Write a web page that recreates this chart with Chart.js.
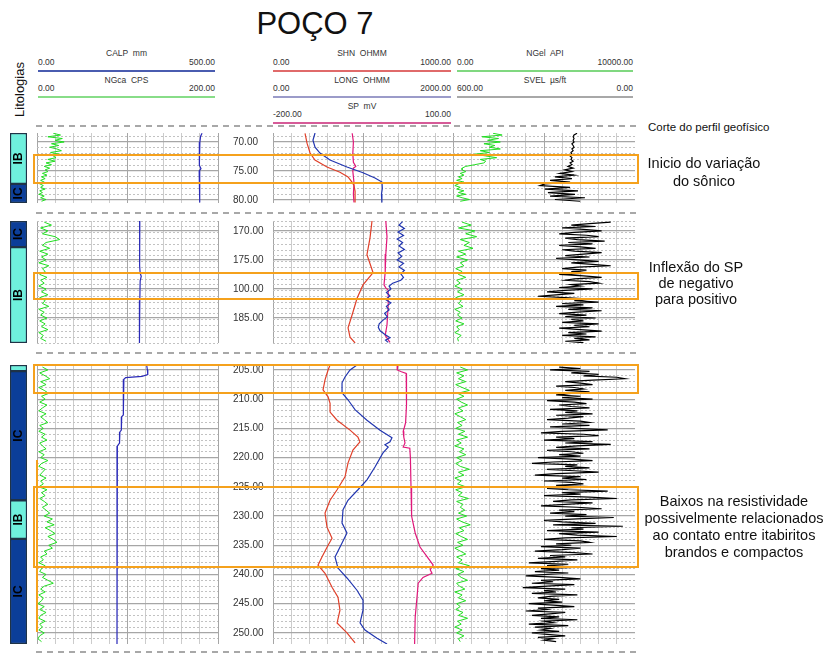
<!DOCTYPE html>
<html lang="pt">
<head>
<meta charset="utf-8">
<title>POÇO 7</title>
<script src="https://cdn.jsdelivr.net/npm/chart.js@4.4.1/dist/chart.umd.min.js"></script>
<style>
  html, body { margin:0; padding:0; background:#ffffff; }
  body { position:relative; width:824px; height:660px; overflow:hidden; font-family:"Liberation Sans", Arial, sans-serif; color:#1a1a1a; }
  .t { position:absolute; white-space:pre; }
  canvas { position:absolute; }
  .dash { position:absolute; height:2px; background:repeating-linear-gradient(to right,#a8a8a8 0 6px,transparent 6px 11px); }
  .hline { position:absolute; height:2px; }
  .box { position:absolute; box-sizing:border-box; border:2px solid #f5a11c; z-index:5; }
  .vmark { position:absolute; width:1.5px; background:#f5a11c; z-index:5; }
</style>
</head>
<body>
<script>
// ================= DATA =================
// track scale ranges (left value, right value)
const calpRange = [0, 500];
const ngcaRange = [0, 200];
const shnRange  = [0, 1000];
const longRange = [0, 2000];
const spRange   = [-200, 100];
const ngelRange = [0, 10000];
const svelRange = [600, 0];

// depth windows of the three sections
const depthRange1 = [68.45, 80.5];
const depthRange2 = [168.3, 189.3];
const depthRange3 = [204.15, 251.9];

// depth tick labels
const depthTicks1 = [70, 75, 80];
const depthLabels1 = ['70.00', '75.00', '80.00'];
const depthTicks2 = [170, 175, 180, 185];
const depthLabels2 = ['170.00', '175.00', '100.00', '185.00'];
const depthTicks3 = [205, 210, 215, 220, 225, 230, 235, 240, 245, 250];
const depthLabels3 = ['205.00', '210.00', '215.00', '220.00', '225.00', '230.00', '235.00', '240.00', '245.00', '250.00'];

// lithology
const lithoNames1 = ['IB', 'IC'];
const lithoTop1   = [68.45, 77.2];
const lithoBase1  = [77.2, 80.5];
const lithoNames2 = ['IC', 'IB'];
const lithoTop2   = [168.3, 172.8];
const lithoBase2  = [172.8, 189.3];
const lithoNames3 = ['IB', 'IC', 'IB', 'IC'];
const lithoTop3   = [204.15, 205.2, 227.3, 233.9];
const lithoBase3  = [205.2, 227.3, 233.9, 251.9];

// ---- section 1 ----
const depth1 = [68.5,68.8,69.1,69.4,69.7,70.0,70.3,70.6,70.9,71.2,71.5,71.8,72.1,72.4,72.7,73.0,73.3,73.6,73.9,74.2,74.5,74.8,75.1,75.4,75.7,76.0,76.3,76.6,76.9,77.2,77.5,77.8,78.1,78.4,78.7,79.0,79.3,79.6,79.9,80.2];
const ngca1 = [18,26,12,28,20,30,16,24,14,22,27,15,25,18,21,12,20,10,16,8,14,9,12,6,11,5,9,4,8,3,7,4,9,3,6,2,8,4,10,5];
const ngel1 = [2200,2700,1600,2500,1900,2600,1700,2300,2000,2600,1500,2000,1200,1800,2400,1500,1800,1700,1200,700,500,500,700,400,600,300,500,200,600,300,100,400,200,600,300,700,200,500,900,400];
const svel1 = [191,201,204,201,204,201,208,204,201,208,204,211,208,214,208,211,204,214,208,221,204,231,208,247,201,264,208,280,214,297,313,214,297,188,287,198,280,165,264,181];
const calpD1 = [68.5,69.0,70.0,72.0,74.0,74.6,75.0,77.0,80.4];
const calpV1 = [456,452,450,449,448,453,448,449,450];
const shnD1 = [68.5,70.2,71.9,73.1,74.3,75.2,76.0,76.9,77.5,78.5,80.4];
const shnV1 = [178,189,206,233,300,372,417,439,450,456,456];
const longD1 = [68.45,69.7,70.9,71.9,73.1,74.3,75.3,76.2,76.9,78.0,79.0,80.4];
const longV1 = [467,444,467,522,633,822,1000,1133,1211,1215,1205,1210];
const spD1 = [68.5,70.0,72.0,73.5,74.2,74.5,75.0,77.0,79.0,80.4];
const spV1 = [-68,-66,-67,-66,-62,-66,-67,-65,-66,-65];

// ---- section 2 ----
const depth2 = [168.5,169,169.5,170,170.5,171,171.5,172,172.5,173,173.5,174,174.5,175,175.5,176,176.5,177,177.5,178,178.5,179,179.5,180,180.5,181,181.5,182,182.5,183,183.5,184,184.5,185,185.5,186,186.5,187,187.5,188,188.5,189];
const ngca2 = [8,16,4,12,6,20,25,10,6,14,3,12,5,10,2,13,6,9,3,11,4,8,2,10,5,12,3,9,6,13,2,8,4,11,3,9,5,12,2,7,4,10];
const ngel2 = [500,1000,300,1200,700,1300,400,900,600,1100,300,700,200,800,400,600,150,500,300,700,200,400,100,500,250,600,150,450,300,550,100,400,250,500,150,600,200,350,100,450,250,300];
const svelD2 = [168.5,168.75,169,169.25,169.5,169.75,170,170.25,170.5,170.75,
  171,171.25,171.5,171.75,172,172.25,172.5,172.75,173,173.25,
  173.5,173.75,174,174.25,174.5,174.75,175,175.25,175.5,175.75,
  176,176.25,176.5,176.75,177,177.25,177.5,177.75,178,178.25,
  178.5,178.75,179,179.25,179.5,179.75,180,180.25,180.5,180.75,
  181,181.25,181.5,181.75,182,182.25,182.5,182.75,183,183.25,
  183.5,183.75,184,184.25,184.5,184.75,185,185.25,185.5,185.75,
  186,186.25,186.5,186.75,187,187.25,187.5,187.75,188,188.25,
  188.5,188.75,189,189.25];
const svel2 = [80,150,210,130,240,170,110,200,250,160,
  120,230,190,100,220,140,250,180,130,240,
  200,110,170,230,150,260,190,120,210,140,
  80,190,240,160,210,130,250,170,110,200,
  230,150,120,210,180,250,140,230,290,200,
  260,320,230,150,200,120,240,170,260,140,
  220,110,190,250,160,230,130,210,170,240,
  120,200,150,250,180,110,220,160,240,130,
  200,150,230,170];
const calpD2 = [168.3,172,176,177.3,177.8,178.6,182,189.3];
const calpV2 = [284,284,283,285,288,285,284,283];
const shnD2 = [168.3,171.2,174.1,177.2,179.3,181.6,184.0,186.7,188.3,189.3];
const shnV2 = [550,539,522,556,500,467,444,417,428,456];
const longD2 = [168.4,169,169.6,170.2,170.8,171.4,172,172.6,173.2,173.8,174.4,175,175.6,176.2,176.8,177.4,178,178.5,179,179.5,180,180.6,181.2,181.8,182.4,183,183.6,184.2,184.8,185.4,186,186.6,187.2,187.8,188.4,188.8,189.2];
const longV2 = [1440,1400,1460,1390,1450,1380,1440,1400,1460,1390,1430,1380,1450,1400,1460,1420,1450,1420,1330,1290,1310,1260,1300,1250,1310,1260,1290,1240,1270,1220,1180,1170,1190,1240,1300,1250,1280];
const spD2 = [168.3,171,174,177.1,179.3,179.8,180.2,182.8,186.2,188.0,188.6,189.2];
const spV2 = [-12,-10,-12,-13,-15,-12,-8,-8,-10,-13,-9,-5];

// ---- section 3 ----
const depth3 = [204.5,205,205.5,206,206.5,207,207.5,208,208.5,209,
  209.5,210,210.5,211,211.5,212,212.5,213,213.5,214,
  214.5,215,215.5,216,216.5,217,217.5,218,218.5,219,
  219.5,220,220.5,221,221.5,222,222.5,223,223.5,224,
  224.5,225,225.5,226,226.5,227,227.5,228,228.5,229,
  229.5,230,230.5,231,231.5,232,232.5,233,233.5,234,
  234.5,235,235.5,236,236.5,237,237.5,238,238.5,239,
  239.5,240,240.5,241,241.5,242,242.5,243,243.5,244,
  244.5,245,245.5,246,246.5,247,247.5,248,248.5,249,
  249.5,250,250.5,251,251.5];
const ngca3 = [6,12,3,9,14,4,10,2,8,13,
  5,9,3,11,6,2,10,4,8,12,
  3,7,2,9,5,11,3,6,10,2,
  8,4,12,5,2,9,6,3,10,4,
  7,2,11,5,9,3,8,12,6,10,
  14,8,17,11,19,9,15,20,12,18,
  22,13,17,8,11,4,7,2,9,5,
  3,10,6,12,18,8,4,9,2,7,
  5,1,8,3,10,4,2,9,3,6,
  2,8,3,1,5];
const ngel3 = [400,800,200,600,300,700,150,500,900,250,
  600,200,450,800,300,550,100,400,700,250,
  500,150,650,300,800,200,450,100,600,350,
  700,200,500,150,400,900,300,600,100,450,
  250,700,150,500,300,850,200,550,400,650,
  300,750,200,500,950,350,600,150,450,800,
  250,550,100,400,700,200,500,300,900,150,
  600,250,450,800,200,350,650,100,500,300,
  700,200,400,150,550,300,800,250,450,100,
  500,200,600,300,400];
const svelD3 = [204.5,204.75,205,205.25,205.5,205.75,206,206.25,206.5,206.75,207,207.25,207.5,207.75,208,208.25,208.5,208.75,209,209.25,
  209.5,209.75,210,210.25,210.5,210.75,211,211.25,211.5,211.75,212,212.25,212.5,212.75,213,213.25,213.5,213.75,214,214.25,
  214.5,214.75,215,215.25,215.5,215.75,216,216.25,216.5,216.75,217,217.25,217.5,217.75,218,218.25,218.5,218.75,219,219.25,
  219.5,219.75,220,220.25,220.5,220.75,221,221.25,221.5,221.75,222,222.25,222.5,222.75,223,223.25,223.5,223.75,224,224.25,
  224.5,224.75,225,225.25,225.5,225.75,226,226.25,226.5,226.75,227,227.25,227.5,227.75,228,228.25,228.5,228.75,229,229.25,
  229.5,229.75,230,230.25,230.5,230.75,231,231.25,231.5,231.75,232,232.25,232.5,232.75,233,233.25,233.5,233.75,234,234.25,
  234.5,234.75,235,235.25,235.5,235.75,236,236.25,236.5,236.75,237,237.25,237.5,237.75,238,238.25,238.5,238.75,239,239.25,
  239.5,239.75,240,240.25,240.5,240.75,241,241.25,241.5,241.75,242,242.25,242.5,242.75,243,243.25,243.5,243.75,244,244.25,
  244.5,244.75,245,245.25,245.5,245.75,246,246.25,246.5,246.75,247,247.25,247.5,247.75,248,248.25,248.5,248.75,249,249.25,
  249.5,249.75,250,250.25,250.5,250.75,251,251.25,251.5];
const svel3 = [250,180,280,150,210,120,170,60,33,140,230,180,140,260,200,170,230,150,210,260,
  180,240,140,290,200,160,250,210,150,280,190,230,140,260,170,220,290,180,150,240,
  150,280,200,90,240,310,170,120,260,200,300,140,230,80,190,260,150,290,210,170,
  250,180,320,210,140,270,340,190,230,150,290,200,120,260,330,180,240,160,300,210,
  170,260,130,290,220,90,240,180,300,150,60,210,270,140,230,310,190,110,250,200,
  280,160,230,70,190,300,240,130,270,40,210,170,290,120,250,190,60,230,300,180,
  150,260,210,310,180,240,330,200,140,280,230,320,190,260,350,220,290,180,310,250,
  330,220,290,360,250,180,310,270,340,200,290,370,230,300,260,340,190,280,320,250,
  300,240,350,270,200,320,290,360,230,280,340,250,310,190,300,270,350,220,330,280,
  310,250,340,290,230,320,270,300,260];
const calpD3 = [204.2,205.0,205.8,206.1,206.3,206.6,210,212.7,213.0,215.3,215.6,217.5,218.0,225,240,251.9];
const calpV3 = [303,305,306,290,245,240,239,238,234,233,229,228,222,221,221,221];
const shnD3 = [204.15,205,206.7,208.4,209.6,210.7,212.2,213.6,215.3,216.5,217.3,218.7,220.9,223.3,225.5,227.3,229.5,231.9,233.8,235,237,238.4,239.8,242.2,243.9,246.1,248.3,250,251.7];
const shnV3 = [317,306,289,278,306,317,317,356,428,472,483,444,417,400,356,317,289,300,328,306,272,250,289,328,361,372,356,411,456];
const longD3 = [204.15,205,206.2,207.2,208.9,210.1,211.8,213.6,215.3,216.6,217.3,217.8,218.2,219.2,221.6,223.8,225.5,227.3,228.9,231.2,232.9,234.6,237,238.9,240.6,242.7,244.4,246.1,248.3,249.5,250.9,251.9];
const longV3 = [933,856,800,767,767,833,911,1044,1189,1322,1300,1244,1280,1222,1133,1044,944,833,778,767,822,767,689,722,822,933,1000,1000,967,1022,1156,1267];
const spD3 = [204.15,205.0,205.3,205.6,208,211,214,214.8,215.5,216.5,217.5,218.2,218.4,220,225,230,232.9,235.3,237,238.4,239.2,239.8,240.5,241.5,243.9,247.3,251.9];
const spV3 = [8,7,14,22,23,22,21,19,17,18,20,17,28,29,30,31,37,45,57,67,62,65,50,42,40,37,36];

// highlighted intervals (orange boxes)
const boxSection = [0, 1, 2, 2];
const boxTop  = [72.2, 177.2, 204.15, 225.0];
const boxBase = [77.1, 181.7, 208.9, 238.7];
// thin orange marker along track 1 in section 3
const markTop = 220.4;
const markBase = 249.9;

// header texts
const hdrTitles = [['CALP  mm', 'NGca  CPS'], ['SHN  OHMM', 'LONG  OHMM', 'SP  mV'], ['NGel  API', 'SVEL  µs/ft']];
const hdrRanges = [[calpRange, ngcaRange], [shnRange, longRange, spRange], [ngelRange, svelRange]];

// ================= LAYOUT / STYLE =================
const L = {
  secTop: [133, 221, 365], secH: [70, 122, 279], pad: 8,
  lithoX: 8, lithoW: 21,
  t1X: 37, t1W: 181, depthW: 55,
  t2X: 273, t2W: 180,
  t3X: 453, t3W: 182
};
const COL = {
  calp: '#2a2ab8', ngca: '#22dd22', shn: '#e0402a', long: '#2236b0', sp: '#e0187a', ngel: '#22dd22', svel: '#000000',
  hdr: [['#4a5cb0', '#88dd88'], ['#e06a6a', '#9b9bc9', '#d65b98'], ['#80d880', '#a8a8a8']],
  IB: '#6ff0dd', IC: '#0b3e99'
};
Chart.defaults.font.family = '"Liberation Sans", Arial, sans-serif';

function txt(s, x, y, size, align, color) {
  const d = document.createElement('div');
  d.className = 't'; d.textContent = s;
  const lh = Math.round(size * 1.3);
  d.style.fontSize = size + 'px'; d.style.lineHeight = lh + 'px';
  d.style.top = (y - lh / 2) + 'px'; d.style.color = color || '#333';
  if (align === 'center') { d.style.left = (x - 200) + 'px'; d.style.width = '400px'; d.style.textAlign = 'center'; }
  else if (align === 'right') { d.style.left = (x - 400) + 'px'; d.style.width = '400px'; d.style.textAlign = 'right'; }
  else { d.style.left = x + 'px'; }
  document.body.appendChild(d); return d;
}
function div(cls, x, y, w, h, bg) {
  const d = document.createElement('div'); d.className = cls;
  d.style.left = x + 'px'; d.style.top = y + 'px';
  if (w != null) d.style.width = w + 'px';
  if (h != null) d.style.height = h + 'px';
  if (bg) d.style.background = bg;
  document.body.appendChild(d); return d;
}
function makeCanvas(x, y, w, h) {
  const c = document.createElement('canvas');
  c.width = w; c.height = h;
  c.style.left = x + 'px'; c.style.top = y + 'px'; c.style.width = w + 'px'; c.style.height = h + 'px';
  document.body.appendChild(c); return c;
}

// ---- title & header ----
txt('POÇO 7', 315, 24, 31, 'center', '#111');
const lit = txt('Litologias', 19, 89, 13, 'center', '#111');
lit.style.transform = 'rotate(-90deg)';

const hdrCols = [[38, 215], [273, 451], [457, 633]];
const hdrTitleY = [53, 80, 106], hdrValY = [62, 88.5, 114], hdrLineY = [69.5, 95.5, 121.5];
hdrTitles.forEach((col, ci) => {
  const [x0, x1] = hdrCols[ci];
  col.forEach((name, ri) => {
    txt(name, (x0 + x1) / 2, hdrTitleY[ri], 8.5, 'center', '#333');
    txt(hdrRanges[ci][ri][0].toFixed(2), x0, hdrValY[ri], 8.5, 'left', '#333');
    txt(hdrRanges[ci][ri][1].toFixed(2), x1, hdrValY[ri], 8.5, 'right', '#333');
    div('hline', x0, hdrLineY[ri], x1 - x0, 2, COL.hdr[ci][ri]);
  });
});

// dashed cut lines
[125, 212, 352, 651].forEach(y => div('dash', 36, y, 602, 2));
txt('Corte do perfil geofísico', 648, 127, 11.5, 'left', '#111');

// ---- chart helpers ----
function curve(depths, values, axisId, color, width) {
  return { data: depths.map((d, i) => ({ x: values[i], y: d })), xAxisID: axisId, yAxisID: 'y',
    showLine: true, borderColor: color, backgroundColor: color, borderWidth: width,
    pointRadius: 0, tension: 0, fill: false };
}
function yScales(range, majors) {
  return {
    y: { type: 'linear', axis: 'y', position: 'left', reverse: true, min: range[0], max: range[1],
      ticks: { display: false }, grid: { color: '#a6a6a6', lineWidth: 1.3, drawTicks: false }, border: { display: false },
      afterBuildTicks: s => { s.ticks = majors.map(v => ({ value: v })); } },
    ym: { type: 'linear', axis: 'y', position: 'left', reverse: true, min: range[0], max: range[1],
      ticks: { display: false, stepSize: 1, includeBounds: false },
      grid: { color: '#c2c2c2', lineWidth: 1, drawTicks: false }, border: { display: false, dash: [2, 2] },
      afterBuildTicks: s => { s.ticks = s.ticks.filter(t => Math.abs(t.value - 5 * Math.round(t.value / 5)) > 1e-6); } }
  };
}
function xGrid(range) {
  const lo = Math.min(range[0], range[1]), hi = Math.max(range[0], range[1]);
  return { type: 'linear', axis: 'x', position: 'bottom', min: lo, max: hi, reverse: range[0] > range[1],
    ticks: { display: false, stepSize: (hi - lo) / 10 },
    grid: { drawTicks: false, lineWidth: 1, color: c => (c.index === 0 || c.index === 5 || c.index === 10) ? '#a6a6a6' : '#cccccc' },
    border: { display: false } };
}
function xHidden(range) {
  const lo = Math.min(range[0], range[1]), hi = Math.max(range[0], range[1]);
  return { type: 'linear', axis: 'x', display: false, min: lo, max: hi, reverse: range[0] > range[1] };
}
function depthAxis(range, ticks, labels) {
  return { type: 'linear', axis: 'y', position: 'right', reverse: true, min: range[0], max: range[1],
    grid: { display: false, drawTicks: false }, border: { display: false },
    ticks: { display: true, autoSkip: false, color: '#333', padding: 15, crossAlign: 'near', font: { size: 10 },
      callback: (v, i) => labels[i] },
    afterBuildTicks: s => { s.ticks = ticks.map(v => ({ value: v })); },
    afterFit: s => { s.width = L.depthW; s.paddingTop = 0; s.paddingBottom = 0; } };
}
function trackChart(x, w, sec, scales, datasets) {
  const c = makeCanvas(x, L.secTop[sec] - L.pad, w, L.secH[sec] + 2 * L.pad);
  return new Chart(c, { type: 'scatter', data: { datasets },
    options: { responsive: false, animation: false, events: [],
      layout: { padding: { top: L.pad, bottom: L.pad, left: 0, right: 0 } },
      plugins: { legend: { display: false }, tooltip: { enabled: false } }, scales } });
}
const lithoLabelPlugin = {
  id: 'lithoLabels',
  afterDatasetsDraw(chart) {
    const ctx = chart.ctx;
    chart.data.datasets.forEach((ds, i) => {
      const el = chart.getDatasetMeta(i).data[0];
      if (!el) return;
      const top = Math.min(el.y, el.base), bot = Math.max(el.y, el.base);
      if (bot - top < 14) return;
      ctx.save(); ctx.translate(el.x, (top + bot) / 2); ctx.rotate(-Math.PI / 2);
      ctx.font = 'bold 12px "Liberation Sans", Arial'; ctx.fillStyle = '#000';
      ctx.textAlign = 'center'; ctx.textBaseline = 'middle';
      ctx.fillText(ds.label, 0, 0.5); ctx.restore();
    });
  }
};
function lithoChart(sec, range, names, tops, bases) {
  const c = makeCanvas(L.lithoX, L.secTop[sec] - L.pad, L.lithoW, L.secH[sec] + 2 * L.pad);
  return new Chart(c, { type: 'bar',
    data: { labels: ['L'], datasets: names.map((n, i) => ({ label: n, data: [[tops[i], bases[i]]],
      backgroundColor: COL[n], borderColor: '#1f3347', borderWidth: 1.5, borderSkipped: false,
      grouped: false, barPercentage: 1, categoryPercentage: 1 })) },
    options: { responsive: false, animation: false, events: [],
      layout: { padding: { top: L.pad, bottom: L.pad, left: 2, right: 2 } },
      plugins: { legend: { display: false }, tooltip: { enabled: false } },
      scales: { x: { display: false }, y: { display: false, reverse: true, min: range[0], max: range[1] } } },
    plugins: [lithoLabelPlugin] });
}

// ---- build sections ----
const sections = [
  { range: depthRange1, ticks: depthTicks1, labels: depthLabels1, litho: [lithoNames1, lithoTop1, lithoBase1],
    ngD: depth1, ngca: ngca1, ngel: ngel1, svel: [depth1, svel1],
    calp: [calpD1, calpV1], shn: [shnD1, shnV1], long: [longD1, longV1], sp: [spD1, spV1] },
  { range: depthRange2, ticks: depthTicks2, labels: depthLabels2, litho: [lithoNames2, lithoTop2, lithoBase2],
    ngD: depth2, ngca: ngca2, ngel: ngel2, svel: [svelD2, svel2],
    calp: [calpD2, calpV2], shn: [shnD2, shnV2], long: [longD2, longV2], sp: [spD2, spV2] },
  { range: depthRange3, ticks: depthTicks3, labels: depthLabels3, litho: [lithoNames3, lithoTop3, lithoBase3],
    ngD: depth3, ngca: ngca3, ngel: ngel3, svel: [svelD3, svel3],
    calp: [calpD3, calpV3], shn: [shnD3, shnV3], long: [longD3, longV3], sp: [spD3, spV3] }
];
const track1Charts = [], track2Charts = [];
sections.forEach((s, k) => {
  lithoChart(k, s.range, s.litho[0], s.litho[1], s.litho[2]);
  // track 1 : CALP + NGca, with depth column on its right
  track1Charts.push(trackChart(L.t1X, L.t1W + L.depthW, k,
    Object.assign({ x: xGrid(calpRange), xg: xHidden(ngcaRange), depth: depthAxis(s.range, s.ticks, s.labels) }, yScales(s.range, s.ticks)),
    [curve(s.ngD, s.ngca, 'xg', COL.ngca, 1), curve(s.calp[0], s.calp[1], 'x', COL.calp, 1.2)]));
  // track 2 : SHN, LONG, SP
  track2Charts.push(trackChart(L.t2X, L.t2W, k,
    Object.assign({ x: xGrid(shnRange), xl: xHidden(longRange), xs: xHidden(spRange) }, yScales(s.range, s.ticks)),
    [curve(s.shn[0], s.shn[1], 'x', COL.shn, 1.2), curve(s.long[0], s.long[1], 'xl', COL.long, 1.2), curve(s.sp[0], s.sp[1], 'xs', COL.sp, 1.2)]));
  // track 3 : NGel, SVEL
  trackChart(L.t3X, L.t3W, k,
    Object.assign({ x: xGrid(ngelRange), xv: xHidden(svelRange) }, yScales(s.range, s.ticks)),
    [curve(s.ngD, s.ngel, 'x', COL.ngel, 1), curve(s.svel[0], s.svel[1], 'xv', COL.svel, 1.2)]);
});

// ---- highlighted intervals, positioned through the depth scale ----
boxTop.forEach((t, i) => {
  const k = boxSection[i], ch = track2Charts[k];
  const y0 = L.secTop[k] - L.pad + ch.scales.y.getPixelForValue(t);
  const y1 = L.secTop[k] - L.pad + ch.scales.y.getPixelForValue(boxBase[i]);
  div('box', 33, Math.round(y0) - 1, 606, Math.round(y1 - y0) + 2);
});
{
  const ch = track1Charts[2];
  const y0 = L.secTop[2] - L.pad + ch.scales.y.getPixelForValue(markTop);
  const y1 = L.secTop[2] - L.pad + ch.scales.y.getPixelForValue(markBase);
  div('vmark', 36, Math.round(y0), null, Math.round(y1 - y0));
}

// ---- annotations ----
txt('Inicio do variação', 704, 163, 14.5, 'center', '#111');
txt('do sônico', 704, 181, 14.5, 'center', '#111');
txt('Inflexão do SP', 696, 267, 14.5, 'center', '#111');
txt('de negativo', 696, 283, 14.5, 'center', '#111');
txt('para positivo', 696, 299, 14.5, 'center', '#111');
txt('Baixos na resistividade', 734, 501, 14.5, 'center', '#111');
txt('possivelmente relacionados', 734, 518, 14.5, 'center', '#111');
txt('ao contato entre itabiritos', 734, 535, 14.5, 'center', '#111');
txt('brandos e compactos', 734, 552, 14.5, 'center', '#111');
</script>
</body>
</html>
